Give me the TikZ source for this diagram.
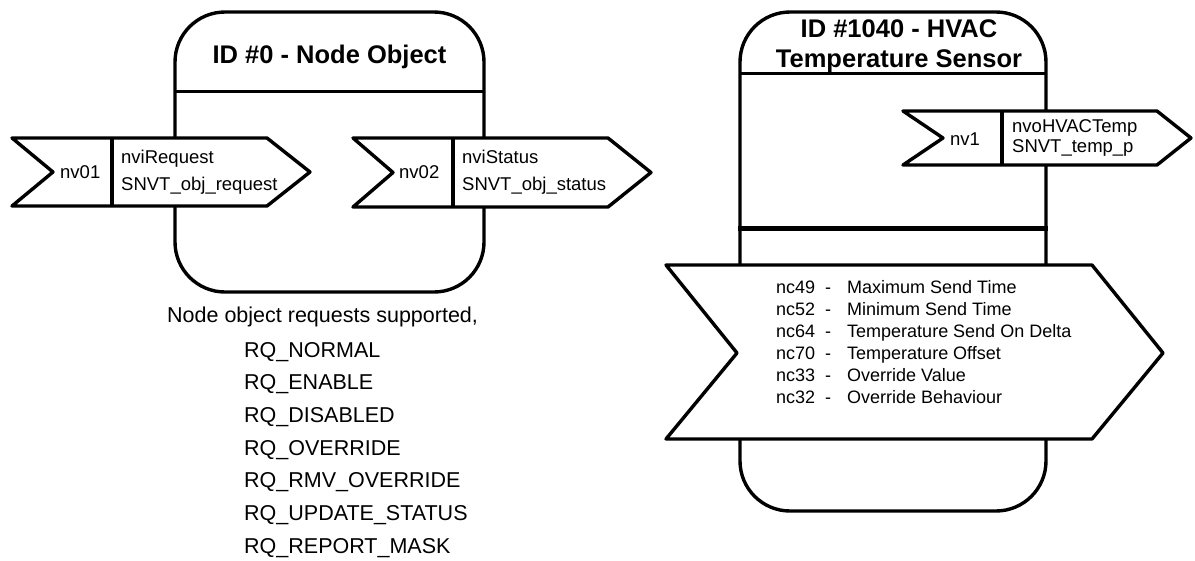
\documentclass[tikz,border=0pt]{standalone}
\usepackage{fontspec}
\setmainfont{Liberation Sans}
\begin{document}
\begin{tikzpicture}[x=1pt,y=-1pt,
  outline/.style={line width=3.4pt, line join=round},
  sepline/.style={line width=3pt},
  heavyline/.style={line width=5pt},
  pointer/.style={outline, fill=white},
  lbl/.style={inner sep=0pt, anchor=base west, font=\fontsize{18.5}{20}\selectfont},
  ttl/.style={inner sep=0pt, anchor=base, font=\fontsize{25.5}{28}\selectfont\bfseries},
  cfg/.style={inner sep=0pt, anchor=base west, font=\fontsize{18}{20}\selectfont},
  req/.style={inner sep=0pt, anchor=base west, font=\fontsize{21.5}{24}\selectfont}]
\useasboundingbox (0,0) rectangle (1195,560);

% ---------- Node object block ----------
\draw[outline, rounded corners=50pt] (175,12) rectangle (484,292);
\draw[sepline] (175,91) -- (484,91);
\node[ttl] (t0) at (329.5,63) {ID \#0 - Node Object};

% nv01 input
\draw[pointer] (12,138) -- (267,138) -- (310,172) -- (267,206) -- (12,206) -- (53,172) -- cycle;
\draw[outline] (112,138) -- (112,206);
\node[lbl] (nv01) at (60,178) {nv01};
\node[lbl] (nviReq) at (121,163) {nviRequest};
\node[lbl] (nviReqT) at (121,190) {SNVT\_obj\_request};

% nv02 output
\draw[pointer] (353,138) -- (608,138) -- (651,172.5) -- (608,207) -- (353,207) -- (393,172.5) -- cycle;
\draw[outline] (453,138) -- (453,207);
\node[lbl] (nv02) at (399,178) {nv02};
\node[lbl] (nviSt) at (462,163) {nviStatus};
\node[lbl] (nviStT) at (462,190) {SNVT\_obj\_status};

% supported requests
\node[req] (rqhead) at (167,322) {Node object requests supported,};
\foreach \r [count=\k] in {RQ\_NORMAL, RQ\_ENABLE, RQ\_DISABLED, RQ\_OVERRIDE,
    RQ\_RMV\_OVERRIDE, RQ\_UPDATE\_STATUS, RQ\_REPORT\_MASK}
  \node[req] (rq\k) at (244,{357+32.7*(\k-1)}) {\r};

% ---------- HVAC temperature sensor block ----------
\draw[outline, rounded corners=50pt] (740,12) rectangle (1046,511);
\draw[sepline] (740,73) -- (1047,73);
\draw[heavyline] (738,228) -- (1048,228);
\node[ttl] (t1a) at (899,37) {ID \#1040 - HVAC};
\node[ttl] (t1b) at (899,67) {Temperature Sensor};

% nv1 output
\draw[pointer] (903,111) -- (1157,111) -- (1191,138) -- (1157,165) -- (903,165) -- (943,138) -- cycle;
\draw[outline] (1002,111) -- (1002,165);
\node[lbl] (nv1) at (950,145) {nv1};
\node[lbl] (nvoT) at (1012,132) {nvoHVACTemp};
\node[lbl] (nvoTT) at (1012,152) {SNVT\_temp\_p};

% configuration properties
\draw[pointer] (666,265) -- (1092,265) -- (1163,353) -- (1092,439) -- (666,439) -- (737,353) -- cycle;
\foreach \id/\txt [count=\k] in {nc49/Maximum Send Time, nc52/Minimum Send Time,
    nc64/Temperature Send On Delta, nc70/Temperature Offset,
    nc33/Override Value, nc32/Override Behaviour} {
  \node[cfg] (cid\k) at (776,{271+22*\k}) {\id};
  \node[cfg] (cdash\k) at (825,{271+22*\k}) {-};
  \node[cfg] (ctxt\k) at (847,{271+22*\k}) {\txt};
}
\end{tikzpicture}
\end{document}
